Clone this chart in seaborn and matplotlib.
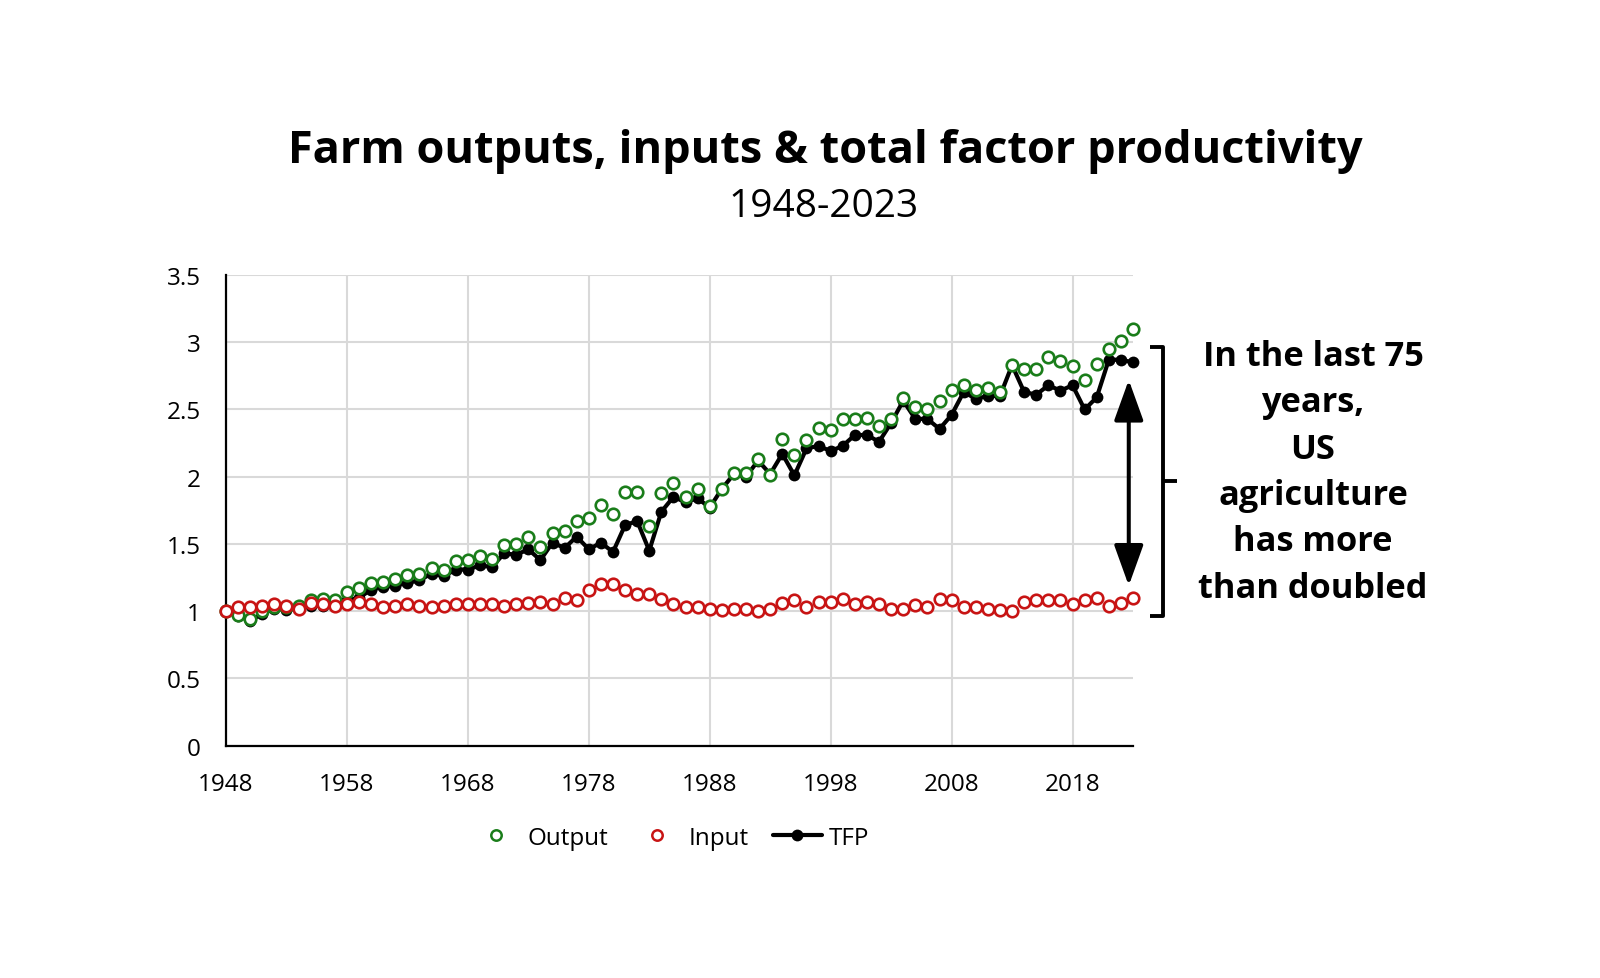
import numpy as np
import pandas as pd
import matplotlib
matplotlib.use("Agg")
import matplotlib.pyplot as plt
import seaborn as sns
from matplotlib.lines import Line2D

# ---------------- data ----------------
years = list(range(1948, 2024))

output = [1.00, 0.975, 0.94, 1.00, 1.03, 1.03, 1.04, 1.08, 1.09, 1.08,
          1.14, 1.17, 1.21, 1.22, 1.24, 1.27, 1.28, 1.32, 1.31, 1.37,
          1.38, 1.41, 1.39, 1.49, 1.50, 1.555, 1.48, 1.58, 1.60, 1.67,
          1.69, 1.79, 1.72, 1.885, 1.885, 1.63, 1.88, 1.95, 1.85, 1.91,
          1.785, 1.91, 2.03, 2.03, 2.13, 2.01, 2.28, 2.16, 2.27, 2.36,
          2.35, 2.43, 2.43, 2.44, 2.375, 2.43, 2.585, 2.52, 2.50, 2.565,
          2.645, 2.68, 2.645, 2.66, 2.63, 2.83, 2.80, 2.80, 2.89, 2.86,
          2.825, 2.72, 2.84, 2.95, 3.01, 3.10]

inputs = [1.00, 1.03, 1.03, 1.04, 1.05, 1.04, 1.02, 1.06, 1.05, 1.04,
          1.05, 1.07, 1.05, 1.03, 1.04, 1.05, 1.04, 1.03, 1.04, 1.05,
          1.055, 1.055, 1.05, 1.04, 1.05, 1.06, 1.07, 1.05, 1.10, 1.08,
          1.155, 1.20, 1.20, 1.155, 1.13, 1.125, 1.09, 1.05, 1.03, 1.03,
          1.02, 1.01, 1.02, 1.02, 1.00, 1.02, 1.06, 1.087, 1.035, 1.07,
          1.07, 1.09, 1.055, 1.07, 1.055, 1.02, 1.02, 1.043, 1.03, 1.09,
          1.08, 1.03, 1.03, 1.02, 1.01, 1.005, 1.07, 1.08, 1.087, 1.087,
          1.055, 1.087, 1.10, 1.04, 1.06, 1.10]

tfp = [1.00, 0.965, 0.93, 0.98, 1.02, 1.01, 1.02, 1.04, 1.04, 1.04,
       1.08, 1.10, 1.16, 1.18, 1.19, 1.21, 1.23, 1.28, 1.26, 1.31,
       1.31, 1.34, 1.33, 1.43, 1.42, 1.46, 1.38, 1.51, 1.47, 1.555,
       1.46, 1.51, 1.44, 1.64, 1.67, 1.45, 1.74, 1.85, 1.81, 1.84,
       1.77, 1.91, 2.02, 2.00, 2.12, 2.02, 2.17, 2.01, 2.21, 2.23,
       2.19, 2.23, 2.31, 2.31, 2.26, 2.40, 2.565, 2.43, 2.43, 2.355,
       2.46, 2.63, 2.58, 2.60, 2.60, 2.83, 2.63, 2.61, 2.68, 2.64,
       2.68, 2.50, 2.59, 2.87, 2.87, 2.85]

x_ticks = list(range(1948, 2019, 10))
y_ticks = [0, 0.5, 1, 1.5, 2, 2.5, 3, 3.5]
y_tick_labels = ["0", "0.5", "1", "1.5", "2", "2.5", "3", "3.5"]

title = "Farm outputs, inputs & total factor productivity"
subtitle = "1948-2023"
note = "In the last 75\nyears,\nUS\nagriculture\nhas more\nthan doubled"

GREEN = "#1a7d1a"
RED = "#c81414"

# ---------------- plot ----------------
sns.set_theme(style="white")
plt.rcParams['font.family'] = ['Open Sans', 'DejaVu Sans']
plt.rcParams['text.color'] = 'black'
plt.rcParams['xtick.color'] = 'black'
plt.rcParams['ytick.color'] = 'black'

df = pd.DataFrame({"Year": years, "Output": output, "Input": inputs, "TFP": tfp})

W, H = 1600, 979
fig = plt.figure(figsize=(W / 100, H / 100), dpi=100)
ax = fig.add_axes([226 / W, 1 - 746.7 / H, (1133 - 226) / W, (746.7 - 276) / H])

sns.lineplot(data=df, x="Year", y="TFP", ax=ax, color="black", lw=3.0,
             marker="o", markersize=8.5, mec="black", mew=0, zorder=3, clip_on=False)
sns.lineplot(data=df, x="Year", y="Output", ax=ax, linestyle="", marker="o",
             markersize=8.3, mfc="white", mec=GREEN, mew=1.9, zorder=4, clip_on=False)
sns.lineplot(data=df, x="Year", y="Input", ax=ax, linestyle="", marker="o",
             markersize=8.3, mfc="white", mec=RED, mew=1.9, zorder=5, clip_on=False)

ax.set_xlim(1948, 2023)
ax.set_ylim(0, 3.5)
ax.set_xticks(x_ticks)
ax.set_xticklabels([str(v) for v in x_ticks])
ax.set_yticks(y_ticks)
ax.set_yticklabels(y_tick_labels)
ax.set_xlabel("")
ax.set_ylabel("")
ax.grid(True, color="#d9d9d9", lw=1.5)
ax.set_axisbelow(True)
for s in ["top", "right"]:
    ax.spines[s].set_visible(False)
for s in ["left", "bottom"]:
    ax.spines[s].set_color("black")
    ax.spines[s].set_linewidth(1.6)
    ax.spines[s].set_zorder(2)
ax.tick_params(axis="both", length=0, labelsize=17.5, colors="black")
ax.tick_params(axis="y", pad=18)
ax.tick_params(axis="x", pad=19)

# double arrow
arrow_x = years[-1] - 0.35
ax.annotate("", xy=(arrow_x, tfp[-1] - 0.13), xytext=(arrow_x, inputs[-1] + 0.09),
            arrowprops=dict(arrowstyle="<|-|>,head_length=1.25,head_width=0.45",
                            color="black", lw=2.9, mutation_scale=20,
                            shrinkA=0, shrinkB=0), zorder=6)

# bracket
ax.plot([1.019, 1.033, 1.033, 1.019], [0.847, 0.847, 0.2755, 0.2755],
        transform=ax.transAxes, clip_on=False, color="black", lw=2.8,
        solid_joinstyle="round", solid_capstyle="butt")
ax.plot([1.033, 1.0485], [0.5624, 0.5624], transform=ax.transAxes, clip_on=False,
        color="black", lw=2.8, solid_capstyle="butt")

# note
fig.text(0.8206, 0.517, note, ha="center", va="center", fontsize=24.75,
         fontweight="bold", linespacing=1.475, family=["Open Sans", "DejaVu Sans"])

# title / subtitle, fitted to the reference widths
t1 = fig.text(0.5156, 0.845, title, ha="center", va="center", fontsize=30,
              fontweight="bold", family=["Open Sans", "DejaVu Sans"])
t2 = fig.text(0.5146, 0.7886, subtitle, ha="center", va="center", fontsize=24,
              family=["Open Sans", "DejaVu Sans"])
fig.canvas.draw()
r = fig.canvas.get_renderer()
for t, target in [(t1, 1076), (t2, 191)]:
    w = t.get_window_extent(renderer=r).width
    t.set_fontsize(t.get_fontsize() * target / w)

# legend
handles = [
    Line2D([0], [0], ls="", marker="o", ms=7.5, mfc="white", mec=GREEN, mew=1.8),
    Line2D([0], [0], ls="", marker="o", ms=7.5, mfc="white", mec=RED, mew=1.8),
    Line2D([0], [0], color="black", lw=3.0, marker="o", ms=8.5, mew=0),
]
ax.legend(handles, ["Output", "Input", "TFP"], loc="center",
          bbox_to_anchor=(0.49, -0.196), ncol=3, frameon=False, fontsize=17.5,
          handlelength=2.0, handletextpad=0.3, columnspacing=1.0)

fig.savefig("out.png", dpi=100)
